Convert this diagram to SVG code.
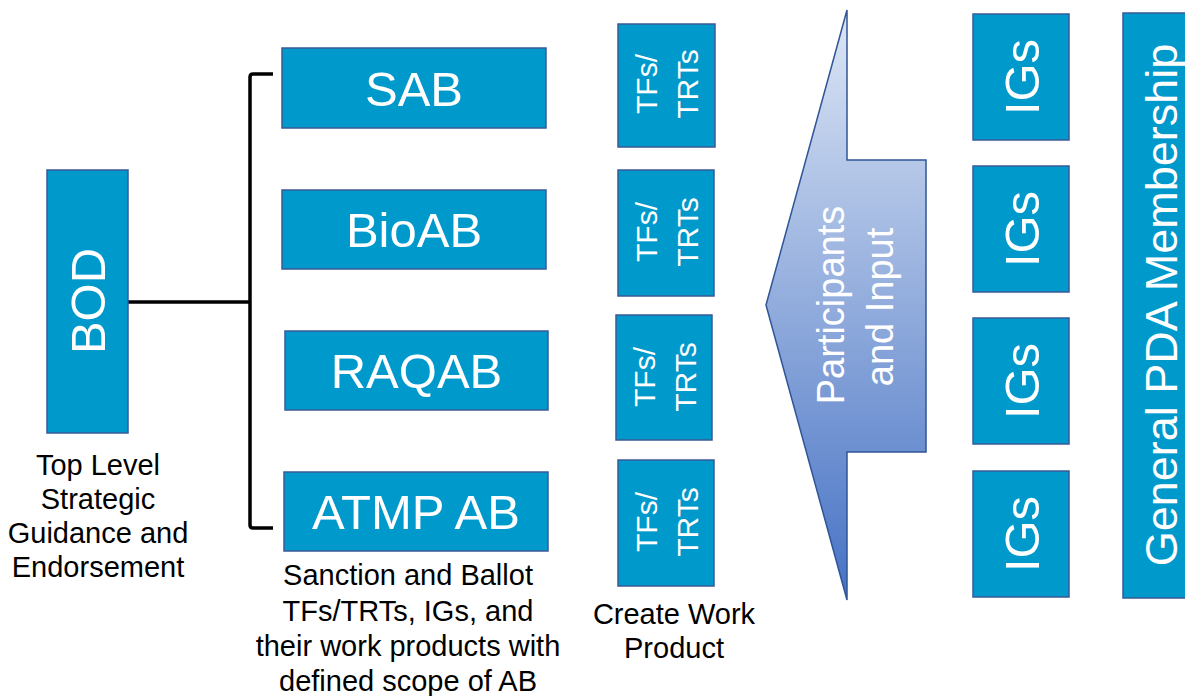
<svg xmlns="http://www.w3.org/2000/svg" width="1185" height="696" viewBox="0 0 1185 696">
<style>
.box{fill:#0099cc;stroke:#3a5a98;stroke-width:1.5}
.wt{fill:#ffffff;font-family:"Liberation Sans",Arial,sans-serif;text-anchor:middle}
.big{font-size:49px}
.tf{font-size:30px}
.cap{fill:#000000;font-family:"Liberation Sans",Arial,sans-serif;font-size:29px;text-anchor:middle}
.conn{fill:none;stroke:#000000;stroke-width:3.5}
</style>
<defs>
<linearGradient id="ag" x1="0" y1="0" x2="0" y2="1">
<stop offset="0" stop-color="#dde6f5"/>
<stop offset="1" stop-color="#4672c4"/>
</linearGradient>
</defs>
<g id="connectors">
<path class="conn" d="M128 302 H250"/>
<path class="conn" d="M273 74 H253 Q250 74 250 77 V525 Q250 528 253 528 H273"/>
</g>
<g id="bod">
<rect class="box" x="47" y="170" width="81" height="263"/>
<text class="wt big" transform="translate(105 301) rotate(-90)">BOD</text>
<text class="cap" x="98" y="475">Top Level</text>
<text class="cap" x="98" y="509">Strategic</text>
<text class="cap" x="98" y="543">Guidance and</text>
<text class="cap" x="98" y="577">Endorsement</text>
</g>
<g id="sab">
<rect class="box" x="282" y="48" width="264" height="80"/>
<text class="wt big" x="414" y="105.5">SAB</text>
</g>
<g id="bioab">
<rect class="box" x="282" y="190" width="264" height="79"/>
<text class="wt big" x="414" y="247">BioAB</text>
</g>
<g id="raqab">
<rect class="box" x="285" y="331" width="263" height="79"/>
<text class="wt big" x="416.5" y="388">RAQAB</text>
</g>
<g id="atmpab">
<rect class="box" x="284" y="472" width="264" height="79"/>
<text class="wt big" x="416" y="529">ATMP AB</text>
<text class="cap" x="408" y="585">Sanction and Ballot</text>
<text class="cap" x="408" y="621">TFs/TRTs, IGs, and</text>
<text class="cap" x="408" y="656">their work products with</text>
<text class="cap" x="408" y="691">defined scope of AB</text>
</g>
<g id="tf1">
<rect class="box" x="618" y="24" width="97" height="123"/>
<text class="wt tf" transform="translate(657 84) rotate(-90)">TFs/</text>
<text class="wt tf" transform="translate(698 84) rotate(-90)">TRTs</text>
</g>
<g id="tf2">
<rect class="box" x="618" y="170" width="96" height="126"/>
<text class="wt tf" transform="translate(656.5 232) rotate(-90)">TFs/</text>
<text class="wt tf" transform="translate(697.5 232) rotate(-90)">TRTs</text>
</g>
<g id="tf3">
<rect class="box" x="616" y="315" width="96" height="125"/>
<text class="wt tf" transform="translate(654.5 377) rotate(-90)">TFs/</text>
<text class="wt tf" transform="translate(695.5 377) rotate(-90)">TRTs</text>
</g>
<g id="tf4">
<rect class="box" x="618" y="460" width="96" height="126"/>
<text class="wt tf" transform="translate(656.5 522) rotate(-90)">TFs/</text>
<text class="wt tf" transform="translate(697.5 522) rotate(-90)">TRTs</text>
<text class="cap" x="674" y="624">Create Work</text>
<text class="cap" x="674" y="658">Product</text>
</g>
<g id="arrow">
<polygon points="847,10 847,160 926,160 926,452 847,452 847,600 766,305" fill="url(#ag)" stroke="#2f5597" stroke-width="1.5"/>
<text class="wt" font-size="38" transform="translate(844 305) rotate(-90)">Participants</text>
<text class="wt" font-size="38" transform="translate(893 307) rotate(-90)">and Input</text>
</g>
<g id="ig1">
<rect class="box" x="973" y="14" width="96" height="126"/>
<text class="wt big" transform="translate(1038.5 77) rotate(-90)">IGs</text>
</g>
<g id="ig2">
<rect class="box" x="973" y="166" width="96" height="126"/>
<text class="wt big" transform="translate(1038.5 229) rotate(-90)">IGs</text>
</g>
<g id="ig3">
<rect class="box" x="973" y="318" width="96" height="126"/>
<text class="wt big" transform="translate(1038.5 381) rotate(-90)">IGs</text>
</g>
<g id="ig4">
<rect class="box" x="973" y="471" width="96" height="126"/>
<text class="wt big" transform="translate(1038.5 534) rotate(-90)">IGs</text>
</g>
<g id="general">
<rect class="box" x="1123" y="13" width="80" height="585"/>
<text class="wt" font-size="45" transform="translate(1177 305) rotate(-90)">General PDA Membership</text>
</g>
</svg>
